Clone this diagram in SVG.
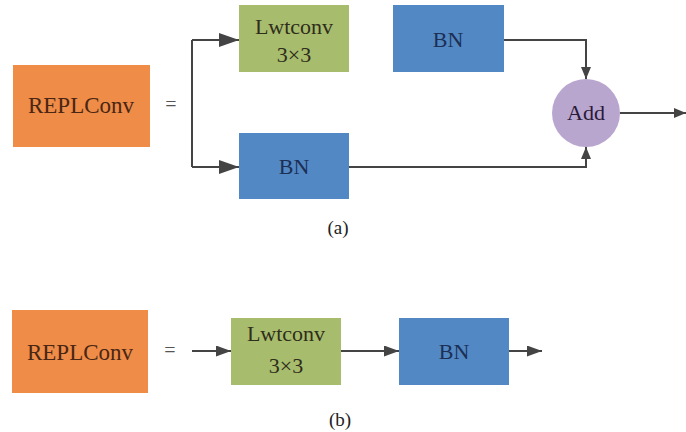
<svg xmlns="http://www.w3.org/2000/svg" width="686" height="432" viewBox="0 0 686 432">
  <style>
    .t { font-family: "Liberation Serif", "Times New Roman", serif; text-anchor: middle; }
    .big { font-size: 23px; }
    .mid { font-size: 22px; }
    .eq { font-size: 20px; }
    .cap { font-size: 19px; fill: #222; }
    .orange { fill: #EE8C48; }
    .green { fill: #A8BC6E; }
    .blue { fill: #5289C4; }
    .purple { fill: #B9A6CF; }
    .ln { fill: none; stroke: #444; stroke-width: 2; }
  </style>
  <defs>
    <marker id="ab" markerUnits="userSpaceOnUse" markerWidth="20" markerHeight="14" refX="20" refY="7" orient="auto">
      <path d="M0,0 L20,7 L0,14 z" fill="#444"/>
    </marker>
    <marker id="am" markerUnits="userSpaceOnUse" markerWidth="15" markerHeight="11" refX="15" refY="5.5" orient="auto">
      <path d="M0,0 L15,5.5 L0,11 z" fill="#444"/>
    </marker>
    <marker id="as" markerUnits="userSpaceOnUse" markerWidth="12" markerHeight="10" refX="12" refY="5" orient="auto">
      <path d="M0,0 L12,5 L0,10 z" fill="#444"/>
    </marker>
  </defs>
  <rect width="686" height="432" fill="#fff"/>

  <!-- (a) -->
  <g id="replconv-a">
    <rect class="orange" x="13" y="65" width="137" height="82"/>
    <text class="t big" x="81" y="113" fill="#4a2614">REPLConv</text>
  </g>
  <text class="t eq" x="171" y="111" fill="#555">=</text>
  <g id="lwtconv-a">
    <rect class="green" x="239" y="5" width="110" height="67"/>
    <text class="t mid" x="294" y="34" fill="#2e2e1a">Lwtconv</text>
    <text class="t mid" x="294" y="62" fill="#2e2e1a">3×3</text>
  </g>
  <g id="bn-a-top">
    <rect class="blue" x="393" y="5" width="111" height="67"/>
    <text class="t mid" x="448" y="47" fill="#1c2f55">BN</text>
  </g>
  <g id="bn-a-bottom">
    <rect class="blue" x="239" y="133" width="110" height="66"/>
    <text class="t mid" x="294" y="174" fill="#1c2f55">BN</text>
  </g>
  <g id="add">
    <circle class="purple" cx="586" cy="113" r="34"/>
    <text class="t mid" x="586" y="120" fill="#2a1a3a">Add</text>
  </g>
  <text class="t cap" x="338" y="234">(a)</text>

  <!-- (b) -->
  <g id="replconv-b">
    <rect class="orange" x="12" y="310" width="136" height="83"/>
    <text class="t big" x="80" y="360" fill="#4a2614">REPLConv</text>
  </g>
  <text class="t eq" x="170" y="357" fill="#555">=</text>
  <g id="lwtconv-b">
    <rect class="green" x="231" y="318" width="110" height="67"/>
    <text class="t mid" x="286" y="341" fill="#2e2e1a">Lwtconv</text>
    <text class="t mid" x="286" y="373" fill="#2e2e1a">3×3</text>
  </g>
  <g id="bn-b">
    <rect class="blue" x="399" y="318" width="110" height="67"/>
    <text class="t mid" x="454" y="359" fill="#1c2f55">BN</text>
  </g>
  <text class="t cap" x="340" y="426">(b)</text>

  <g id="connectors">
    <path class="ln" d="M192,40 V167"/>
    <path class="ln" d="M192,40 H239" marker-end="url(#ab)"/>
    <path class="ln" d="M192,167 H239" marker-end="url(#ab)"/>
    <path class="ln" d="M504,40 H586 V79" marker-end="url(#as)"/>
    <path class="ln" d="M349,167 H586 V147" marker-end="url(#as)"/>
    <path class="ln" d="M620,113 H686" marker-end="url(#as)"/>
    <path class="ln" d="M192,351 H231" marker-end="url(#am)"/>
    <path class="ln" d="M341,351 H399" marker-end="url(#am)"/>
    <path class="ln" d="M509,351 H542" marker-end="url(#am)"/>
  </g>
</svg>
